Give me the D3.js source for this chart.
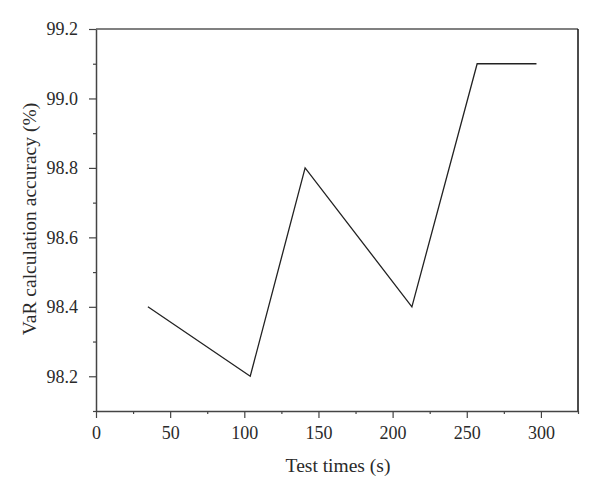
<!DOCTYPE html>
<html><head><meta charset="utf-8">
<script src="https://cdn.jsdelivr.net/npm/d3@7"></script>
<style>body{margin:0;background:#fff}svg{display:block}</style>
</head><body>
<svg id="c" width="600" height="498"></svg>
<script>
const testTimes = [35, 104, 141, 213, 257, 297];
const accuracy = [98.4, 98.2, 98.8, 98.4, 99.1, 99.1];
const xTicks = [0, 50, 100, 150, 200, 250, 300];
const yTicks = [98.2, 98.4, 98.6, 98.8, 99.0, 99.2];
const xMinor = [25, 75, 125, 175, 225, 275, 325];
const yMinor = [98.1, 98.3, 98.5, 98.7, 98.9, 99.1];

const svg = d3.select("#c");
const L = 96, R = 578, T = 29, B = 411;
const x = d3.scaleLinear().domain([0, 325]).range([L, R]);
const y = d3.scaleLinear().domain([98.1, 99.2]).range([B, T]);
const font = "'Liberation Serif','Times New Roman',serif";

// frame: top gray, right black
svg.append("line").attr("x1", L).attr("x2", R).attr("y1", T).attr("y2", T)
  .attr("stroke", "#808080").attr("stroke-width", 2);
svg.append("line").attr("x1", R).attr("x2", R).attr("y1", T).attr("y2", B)
  .attr("stroke", "#111").attr("stroke-width", 1.5);

// x axis
const gx = svg.append("g").attr("transform", `translate(0,${B})`);
gx.call(d3.axisBottom(x).tickValues(xTicks).tickSize(7).tickSizeOuter(0).tickPadding(8).tickFormat(d3.format("d")));
gx.append("g").call(d3.axisBottom(x).tickValues(xMinor).tickSize(3).tickFormat(""))
  .call(g => g.select(".domain").remove());
// y axis
const gy = svg.append("g").attr("transform", `translate(${L},0)`);
gy.call(d3.axisLeft(y).tickValues(yTicks).tickSize(7).tickSizeOuter(0).tickPadding(11).tickFormat(d3.format(".1f")));
gy.append("g").call(d3.axisLeft(y).tickValues(yMinor).tickSize(3).tickFormat(""))
  .call(g => g.select(".domain").remove());

svg.selectAll(".domain").attr("stroke", "#444").attr("stroke-width", 1.5);
svg.selectAll(".tick line").attr("stroke", "#444").attr("stroke-width", 1.2);
svg.selectAll(".tick text").attr("font-family", font).attr("font-size", 18).attr("fill", "#2a2a2a");

// line
const data = testTimes.map((t, i) => ({t, a: accuracy[i]}));
svg.append("path").datum(data)
  .attr("fill", "none").attr("stroke", "#222").attr("stroke-width", 1.3)
  .attr("d", d3.line().x(d => x(d.t)).y(d => y(d.a)));

// titles
svg.append("text").attr("x", (L + R) / 2 + 1).attr("y", 472)
  .attr("text-anchor", "middle").attr("font-family", font).attr("font-size", 19.5).attr("fill", "#2a2a2a")
  .text("Test times (s)");
svg.append("text").attr("transform", `translate(36,219) rotate(-90)`)
  .attr("text-anchor", "middle").attr("font-family", font).attr("font-size", 19.5).attr("fill", "#2a2a2a")
  .text("VaR calculation accuracy (%)");
</script>
</body></html>
